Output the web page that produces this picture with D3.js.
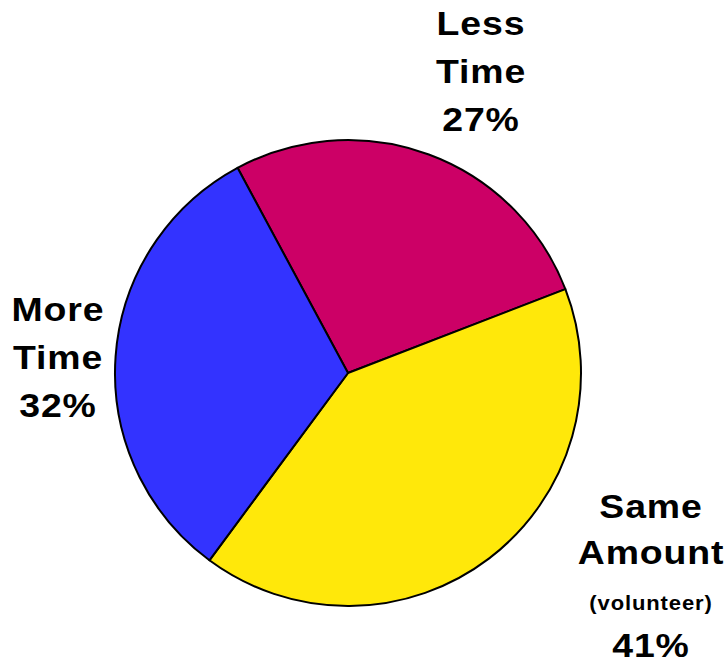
<!DOCTYPE html>
<html>
<head>
<meta charset="utf-8">
<script src="https://cdn.jsdelivr.net/npm/d3@7"></script>
<style>
  body { margin: 0; background: #fff; }
  svg { display: block; }
  text { font-family: "Liberation Sans", Arial, sans-serif; font-weight: bold; fill: #000; }
</style>
</head>
<body>
<div id="chart"></div>
<script>
// slices, clockwise starting from the upper-left edge
var categories = ["Less Time", "Same Amount", "More Time"];
var values = [27, 41, 32];
var colors = ["#CC0066", "#FFE80A", "#3333FF"];
// label lines per slice
var labelLines = [
    ["Less", "Time", "27%"],
    ["Same", "Amount", "(volunteer)", "41%"],
    ["More", "Time", "32%"]
];

var width = 727, height = 665;
var cx = 348, cy = 373, radius = 233;
var start = -28.3 * Math.PI / 180;

var svg = d3.select("#chart").append("svg")
    .attr("width", width)
    .attr("height", height);

var g = svg.append("g").attr("transform", "translate(" + cx + "," + cy + ")");

var data = categories.map(function (c, i) {
    return { name: c, value: values[i] };
});

var pie = d3.pie()
    .sort(null)
    .startAngle(start)
    .endAngle(start + 2 * Math.PI)
    .value(function (d) { return d.value; });

var arc = d3.arc()
    .innerRadius(0)
    .outerRadius(radius);

var color = d3.scaleOrdinal().domain(categories).range(colors);

g.selectAll("path")
    .data(pie(data))
    .enter().append("path")
    .attr("d", arc)
    .attr("fill", function (d) { return color(d.data.name); })
    .attr("stroke", "#000")
    .attr("stroke-width", 2)
    .attr("stroke-linejoin", "round");

// label anchor spots (page coords) and baselines for each line
var labelPos = [
    { x: 481, ys: [35, 83, 131] },
    { x: 651, ys: [518, 564, 610, 657] },
    { x: 58, ys: [321, 369, 417] }
];

labelLines.forEach(function (lines, i) {
    lines.forEach(function (line, j) {
        var small = line.charAt(0) == "(";
        svg.append("text")
            .attr("transform", "translate(" + labelPos[i].x + "," + labelPos[i].ys[j] + ") scale(1.1,1)")
            .attr("text-anchor", "middle")
            .attr("font-size", small ? 20 : 34)
            .attr("letter-spacing", small ? 0.8 : 0.8)
            .text(line);
    });
});
</script>
</body>
</html>
